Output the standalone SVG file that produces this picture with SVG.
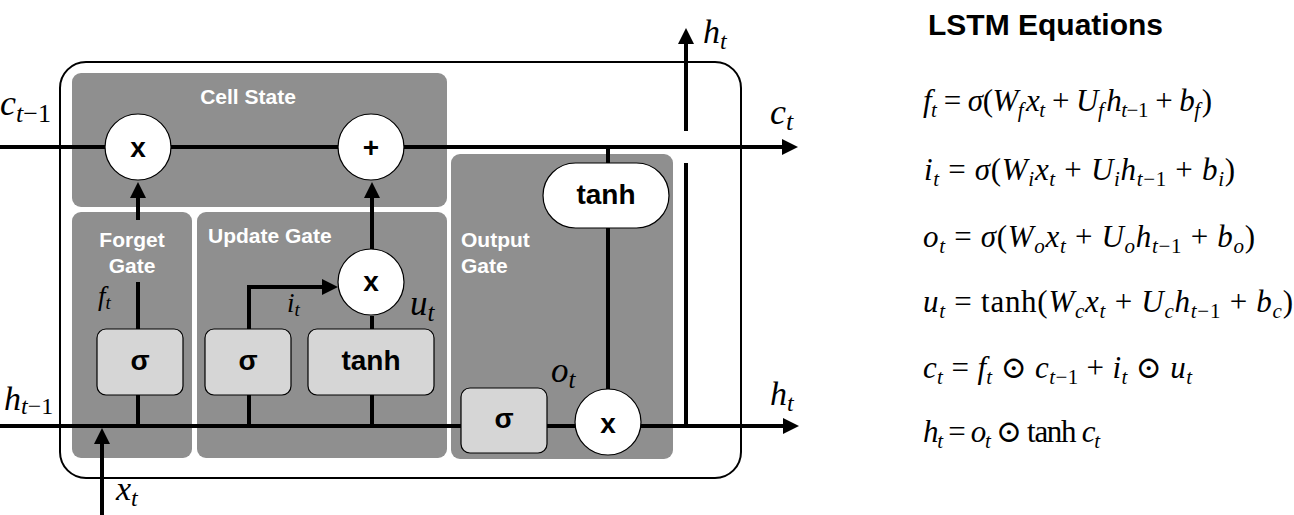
<svg xmlns="http://www.w3.org/2000/svg" width="1294" height="515" viewBox="0 0 1294 515">
<defs>
<style>
.panel{fill:#8f8f8f}
.lbl{font-family:"Liberation Sans",Arial,sans-serif;font-weight:bold;font-size:21px;fill:#fff}
.op{font-family:"Liberation Sans",Arial,sans-serif;font-weight:bold;font-size:28px;fill:#000;text-anchor:middle}
.box{fill:#d6d6d6;stroke:#000;stroke-width:1.2}
.circ{fill:#fff;stroke:#000;stroke-width:1.2}
.ln{stroke:#000;stroke-width:4;fill:none}
.arr{marker-end:url(#ah)}
.m{font-family:"Liberation Serif","DejaVu Serif",serif;font-style:italic;fill:#000}
.r{font-style:normal}
.it{font-style:italic}
.eq{font-family:"Liberation Serif","DejaVu Serif",serif;font-size:31px;fill:#000}
.sb{font-size:21px;font-style:italic}
.sbr{font-size:21px;font-style:normal}
.title{font-family:"Liberation Sans",Arial,sans-serif;font-weight:bold;font-size:30px;fill:#000}
</style>
<marker id="ah" markerUnits="userSpaceOnUse" markerWidth="16" markerHeight="16" refX="12" refY="8" orient="auto">
<path d="M0,0 L16,8 L0,16 z" fill="#000"/>
</marker>
</defs>
<rect width="1294" height="515" fill="#fff"/>

<g id="cell">
<rect x="60" y="62" width="681" height="416" rx="26" fill="#fff" stroke="#000" stroke-width="2"/>
</g>
<g id="cell-state-panel">
<rect class="panel" x="72" y="73" width="375" height="134" rx="9"/>
<text class="lbl" x="248" y="104" text-anchor="middle">Cell State</text>
</g>
<g id="forget-gate-panel">
<rect class="panel" x="72" y="212" width="120" height="246" rx="9"/>
<text class="lbl" x="132" y="247" text-anchor="middle">Forget</text>
<text class="lbl" x="132" y="273" text-anchor="middle">Gate</text>
</g>
<g id="update-gate-panel">
<rect class="panel" x="197" y="212" width="250" height="246" rx="9"/>
<text class="lbl" x="208" y="243">Update Gate</text>
</g>
<g id="output-gate-panel">
<rect class="panel" x="451" y="154" width="222" height="305" rx="9"/>
<text class="lbl" x="461" y="247">Output</text>
<text class="lbl" x="461" y="273">Gate</text>
</g>

<g id="connectors">
<path class="ln arr" d="M0,147 H794"/>
<path class="ln arr" d="M0,426 H795"/>
<path class="ln" d="M138,426 V395"/>
<path class="ln" d="M138,329 V282"/>
<path class="ln arr" d="M138,220 V186"/>
<path class="ln" d="M249,426 V395"/>
<path class="ln arr" d="M249,329 V287 H334"/>
<path class="ln" d="M372,426 V395"/>
<path class="ln" d="M372,329 V316"/>
<path class="ln arr" d="M372,249 V186"/>
<path class="ln" d="M608,147 V163"/>
<path class="ln" d="M608,228 V389"/>
<path class="ln" d="M686,426 V163"/>
<path class="ln arr" d="M686,131 V32"/>
<path class="ln arr" d="M102,515 V432"/>
</g>

<g id="forget-mult">
<circle class="circ" cx="138" cy="147" r="33"/>
<text class="op" x="138" y="157">x</text>
</g>
<g id="cell-add">
<circle class="circ" cx="371" cy="147" r="33"/>
<text class="op" x="371" y="157">+</text>
</g>
<g id="forget-sigma">
<rect class="box" x="97" y="329" width="86" height="66" rx="9"/>
<text class="op" x="140" y="370">σ</text>
</g>
<g id="update-sigma">
<rect class="box" x="205" y="329" width="86" height="66" rx="9"/>
<text class="op" x="248" y="370">σ</text>
</g>
<g id="update-tanh">
<rect class="box" x="308" y="329" width="126" height="66" rx="9"/>
<text class="op" x="371" y="370">tanh</text>
</g>
<g id="update-mult">
<circle class="circ" cx="371" cy="282" r="33"/>
<text class="op" x="371" y="291">x</text>
</g>
<g id="output-sigma">
<rect class="box" x="461" y="388" width="86" height="65" rx="9"/>
<text class="op" x="504" y="428">σ</text>
</g>
<g id="output-tanh">
<rect x="543" y="163" width="126" height="65" rx="32.5" fill="#fff" stroke="#000" stroke-width="1.2"/>
<text class="op" x="606" y="204">tanh</text>
</g>
<g id="output-mult">
<circle class="circ" cx="608" cy="422" r="33"/>
<text class="op" x="608" y="433">x</text>
</g>

<g id="labels">
<text class="m" x="0" y="115" font-size="36">c<tspan font-size="26" dy="7">t</tspan><tspan class="r" font-size="26">−1</tspan></text>
<text class="m" x="770" y="124" font-size="36">c<tspan font-size="26" dy="6">t</tspan></text>
<text class="m" x="703" y="43" font-size="34">h<tspan font-size="24" dy="6">t</tspan></text>
<text class="m" x="770" y="405" font-size="34">h<tspan font-size="24" dy="6">t</tspan></text>
<text class="m" x="4" y="410" font-size="34">h<tspan font-size="24" dy="4">t</tspan><tspan class="r" font-size="24">−1</tspan></text>
<text class="m" x="116" y="500" font-size="34">x<tspan font-size="24" dy="6">t</tspan></text>
<text class="m" x="98" y="305" font-size="27">f<tspan font-size="19" dy="4">t</tspan></text>
<text class="m" x="287" y="312" font-size="27">i<tspan font-size="19" dy="4">t</tspan></text>
<text class="m" x="410" y="315" font-size="35">u<tspan font-size="25" dy="6">t</tspan></text>
<text class="m" x="551" y="382" font-size="35">o<tspan font-size="25" dy="6">t</tspan></text>
</g>

<g id="equations">
<text class="title" x="928" y="35">LSTM Equations</text>
<text class="eq" x="923" y="111" textLength="289" lengthAdjust="spacing"><tspan class="it">f</tspan><tspan class="sb" dy="6">t</tspan><tspan dy="-6"> = </tspan><tspan class="it">σ</tspan>(<tspan class="it">W</tspan><tspan class="sb" dy="6">f</tspan><tspan class="it" dy="-6" dx="3">x</tspan><tspan class="sb" dy="6">t</tspan><tspan dy="-6"> + </tspan><tspan class="it">U</tspan><tspan class="sb" dy="6">f</tspan><tspan class="it" dy="-6" dx="3">h</tspan><tspan class="sb" dy="6">t</tspan><tspan class="sbr">−1</tspan><tspan dy="-6"> + </tspan><tspan class="it">b</tspan><tspan class="sb" dy="6">f</tspan><tspan dy="-6" dx="2">)</tspan></text>
<text class="eq" x="924" y="180" textLength="311" lengthAdjust="spacing"><tspan class="it">i</tspan><tspan class="sb" dy="6">t</tspan><tspan dy="-6"> = </tspan><tspan class="it">σ</tspan>(<tspan class="it">W</tspan><tspan class="sb" dy="6">i</tspan><tspan class="it" dy="-6">x</tspan><tspan class="sb" dy="6">t</tspan><tspan dy="-6"> + </tspan><tspan class="it">U</tspan><tspan class="sb" dy="6">i</tspan><tspan class="it" dy="-6">h</tspan><tspan class="sb" dy="6">t</tspan><tspan class="sbr">−1</tspan><tspan dy="-6"> + </tspan><tspan class="it">b</tspan><tspan class="sb" dy="6">i</tspan><tspan dy="-6">)</tspan></text>
<text class="eq" x="923" y="247" textLength="332" lengthAdjust="spacing"><tspan class="it">o</tspan><tspan class="sb" dy="6">t</tspan><tspan dy="-6"> = </tspan><tspan class="it">σ</tspan>(<tspan class="it">W</tspan><tspan class="sb" dy="6">o</tspan><tspan class="it" dy="-6">x</tspan><tspan class="sb" dy="6">t</tspan><tspan dy="-6"> + </tspan><tspan class="it">U</tspan><tspan class="sb" dy="6">o</tspan><tspan class="it" dy="-6">h</tspan><tspan class="sb" dy="6">t</tspan><tspan class="sbr">−1</tspan><tspan dy="-6"> + </tspan><tspan class="it">b</tspan><tspan class="sb" dy="6">o</tspan><tspan dy="-6">)</tspan></text>
<text class="eq" x="923" y="312" textLength="370" lengthAdjust="spacing"><tspan class="it">u</tspan><tspan class="sb" dy="6">t</tspan><tspan dy="-6"> = tanh(</tspan><tspan class="it">W</tspan><tspan class="sb" dy="6">c</tspan><tspan class="it" dy="-6">x</tspan><tspan class="sb" dy="6">t</tspan><tspan dy="-6"> + </tspan><tspan class="it">U</tspan><tspan class="sb" dy="6">c</tspan><tspan class="it" dy="-6">h</tspan><tspan class="sb" dy="6">t</tspan><tspan class="sbr">−1</tspan><tspan dy="-6"> + </tspan><tspan class="it">b</tspan><tspan class="sb" dy="6">c</tspan><tspan dy="-6">)</tspan></text>
<text class="eq" x="923" y="378" textLength="269" lengthAdjust="spacing"><tspan class="it">c</tspan><tspan class="sb" dy="6">t</tspan><tspan dy="-6"> = </tspan><tspan class="it">f</tspan><tspan class="sb" dy="6">t</tspan><tspan dy="-6"> ⊙ </tspan><tspan class="it">c</tspan><tspan class="sb" dy="6">t</tspan><tspan class="sbr">−1</tspan><tspan dy="-6"> + </tspan><tspan class="it">i</tspan><tspan class="sb" dy="6">t</tspan><tspan dy="-6"> ⊙ </tspan><tspan class="it">u</tspan><tspan class="sb" dy="6">t</tspan></text>
<text class="eq" x="923" y="442" textLength="177" lengthAdjust="spacing"><tspan class="it">h</tspan><tspan class="sb" dy="6">t</tspan><tspan dy="-6"> = </tspan><tspan class="it">o</tspan><tspan class="sb" dy="6">t</tspan><tspan dy="-6"> ⊙ tanh </tspan><tspan class="it">c</tspan><tspan class="sb" dy="6">t</tspan></text>
</g>
</svg>
